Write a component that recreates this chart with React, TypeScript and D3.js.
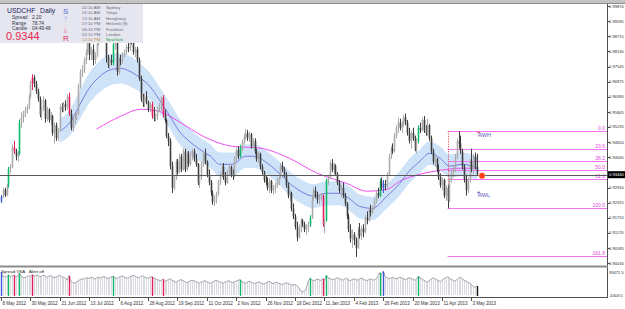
import React from 'react';
import * as d3 from 'd3';

const W = 625;
const H = 309;

const priceTicks = ["0.99870","0.99285","0.98715","0.98130","0.97545","0.96975","0.96390","0.95805","0.95235","0.94650","0.94065","0.93480","0.92910","0.92325","0.91755","0.91170","0.90585","0.90016"];
const dateLabels = ["8 May 2012","30 May 2012","21 Jun 2012","13 Jul 2012","6 Aug 2012","28 Aug 2012","19 Sep 2012","11 Oct 2012","2 Nov 2012","26 Nov 2012","18 Dec 2012","11 Jan 2013","4 Feb 2013","26 Feb 2013","20 Mar 2013","11 Apr 2013","3 May 2013"];
const dateBarIdx = [0,16,32,48,64,80,96,112,128,144,160,176,192,208,224,240,256];

// daily bars: open, high, low, close in pips above 0.9000
const ohlc: number[][] = [
[238,262,232,255],[255,290,250,282],[282,290,255,262],[262,305,258,298],[298,370,290,362],[362,380,345,370],[370,455,365,445],[445,470,420,430],[430,440,395,410],[410,430,390,420],
[420,552,415,540],[540,580,520,560],[560,585,540,575],[575,600,560,590],[590,610,575,600],[600,650,590,640],[640,700,632,690],[690,725,665,712],[712,722,675,690],[690,700,650,660],
[660,670,620,630],[630,640,560,570],[570,600,550,590],[590,640,585,625],[625,630,540,555],[555,600,545,590],[590,595,540,550],[550,580,530,565],[565,570,490,500],[500,540,460,530],
[530,540,470,480],[480,520,470,510],[510,610,505,600],[600,615,580,590],[590,620,580,610],[610,625,585,600],[600,650,590,640],[640,655,565,575],[575,590,510,520],[520,560,505,550],
[550,575,535,560],[560,580,550,575],[575,690,570,680],[680,745,670,735],[735,760,715,740],[740,790,730,780],[780,820,765,810],[810,860,800,845],[845,850,780,800],[800,830,780,820],
[820,840,760,780],[780,810,765,800],[800,850,790,840],[840,900,835,890],[890,945,880,925],[925,972,915,960],[960,968,900,910],[910,930,770,790],[790,800,750,760],[760,790,745,780],
[780,800,760,770],[770,850,760,840],[840,885,820,860],[860,870,720,735],[735,790,725,780],[780,800,760,775],[775,810,765,800],[800,820,790,810],[810,840,800,830],[830,850,810,825],
[825,870,815,860],[860,875,840,850],[850,860,800,810],[810,830,790,820],[820,830,770,780],[780,790,700,710],[710,720,620,630],[630,650,600,615],[615,650,600,640],[640,660,610,620],
[620,625,580,590],[590,620,580,610],[610,620,555,565],[565,600,545,555],[555,575,545,565],[565,600,550,590],[590,615,580,605],[605,640,585,635],[635,645,560,570],[570,590,540,550],
[550,555,480,490],[490,500,450,470],[470,480,360,375],[375,390,270,290],[290,340,280,330],[330,400,320,390],[390,400,340,350],[350,420,345,410],[410,420,350,360],[360,440,355,430],
[430,440,350,360],[360,430,355,420],[420,430,370,380],[380,430,375,410],[410,440,395,430],[430,440,390,400],[400,420,370,380],[380,385,300,310],[310,340,290,330],[330,390,320,380],
[380,430,370,420],[420,440,380,390],[390,395,330,340],[340,360,300,310],[310,320,260,270],[270,280,225,235],[235,260,220,250],[250,275,230,265],[265,320,260,310],[310,350,300,340],
[340,380,330,370],[370,385,320,330],[330,350,300,310],[310,360,305,350],[350,380,340,370],[370,375,330,340],[340,360,320,335],[335,410,330,400],[400,445,390,435],[435,450,400,410],
[410,455,405,445],[445,475,430,465],[465,495,455,485],[485,515,475,500],[500,512,470,480],[480,505,465,495],[495,500,440,450],[450,480,440,470],[470,480,420,430],[430,440,390,400],
[400,430,385,420],[420,425,360,370],[370,380,340,350],[350,355,310,320],[320,335,300,310],[310,330,280,290],[290,325,270,315],[315,320,270,280],[280,300,265,290],[290,310,270,300],
[300,330,290,320],[320,340,300,330],[330,385,325,375],[375,390,350,360],[360,370,330,340],[340,350,290,300],[300,310,250,260],[260,280,240,270],[270,275,200,210],[210,230,170,180],
[180,190,130,140],[140,160,85,100],[100,150,95,140],[140,175,120,165],[165,170,140,150],[150,160,120,130],[130,150,110,140],[140,160,120,150],[150,185,140,175],[175,260,170,250],
[250,290,240,280],[280,295,250,260],[260,275,230,245],[245,265,225,255],[255,270,240,260],[260,265,140,150],[150,170,115,165],[165,325,160,318],[318,340,300,330],[330,395,325,385],
[385,400,350,360],[360,385,340,375],[375,380,340,345],[345,350,300,310],[310,320,270,280],[280,300,250,290],[290,310,250,260],[260,270,220,230],[230,235,170,180],[180,190,120,130],
[130,150,80,95],[95,130,60,110],[110,120,70,90],[90,100,25,60],[60,140,55,130],[130,155,95,105],[105,145,90,135],[135,150,100,120],[120,185,115,175],[175,200,150,165],
[165,215,160,205],[205,225,180,195],[195,220,190,215],[215,250,205,240],[240,280,230,270],[270,290,250,260],[260,325,255,315],[315,330,280,290],[290,320,270,305],[305,320,280,300],
[300,350,290,340],[340,420,335,410],[410,450,400,440],[440,460,420,430],[430,500,425,490],[490,530,480,520],[520,560,500,540],[540,555,510,520],[520,545,500,535],[535,570,525,560],
[560,575,530,540],[540,550,490,500],[500,520,460,470],[470,510,440,500],[500,520,470,480],[480,490,430,440],[440,480,420,470],[470,530,460,520],[520,540,500,510],[510,560,505,550],
[550,565,500,510],[510,530,490,500],[500,555,490,530],[530,535,470,480],[480,490,420,430],[430,440,380,390],[390,420,370,400],[400,405,350,360],[360,380,320,330],[330,345,290,300],
[300,330,280,320],[320,325,250,260],[260,300,240,290],[290,300,211,240],[240,330,235,320],[320,360,310,350],[350,375,330,360],[360,420,350,410],[410,480,400,470],[470,507,440,460],
[460,490,420,430],[430,440,360,370],[370,380,310,320],[320,340,260,280],[280,330,270,320],[320,400,310,390],[390,440,350,360],[360,420,340,410],[410,425,360,370],[370,420,335,344]
];

// volume (thousands)
const volumeK = [
93,74,76,72,82,75,78,80,73,77, 88,76,72,70,74,78,75,82,77,79, 80,74,76,81,78,72,75,79,74,70,
73,77,80,75,71,68,60,78,55,50, 48,52,57,62,66,64,68,70,67,72, 69,65,70,73,68,72,75,71,66,70,
73,76,70,67,72,75,78,73,70,68, 74,77,80,76,72,70,75,79,73,70, 68,72,74,70,66,62,60,58,64,55,
58,62,66,60,56,52,55,60,62,58, 54,50,53,57,60,58,54,50,48,52, 55,58,54,50,47,52,56,60,57,53,
50,48,52,55,58,54,50,53,56,60, 62,55,50,48,52,56,53,49,46,50, 53,50,47,44,48,52,55,50,46,49,
52,48,45,42,46,50,47,44,40,42, 42,38,30,18,12,15,25,50,68,62, 58,60,64,62,58,66,60,80,70,66,
64,62,66,70,67,63,60,65,68,62, 58,62,66,63,60,64,68,65,61,58, 62,66,63,60,64,75,90,85,96,75,
70,66,68,72,69,65,68,72,70,66, 62,66,70,68,64,60,63,76,70,66, 60,56,52,58,64,70,66,62,58,54,
60,66,70,74,68,64,60,56,62,68, 72,66,60,56,52,48,42,35,30,36
];

const signalIdx = [0,4,7,10,17,37,61,82,88,130,168,175,177,206,208,227,259];
const signalKind = ["blue","green","red","green","red","red","green","red","red","green","green","red","green","green","blue","green","black"];

// centered TMA with band
const tmaIdx = [32,38,43,48,54,59,65,70,76,81,86,92,97,103,108,114,119,126,133,138,145,152,157,163,170,177,184,190,195,202,210,217,222,228,233,239,244,251,259];
const tmaMid = [0.9507,0.9545,0.9610,0.9672,0.9718,0.9741,0.9748,0.9737,0.9710,0.9679,0.9629,0.9564,0.9507,0.9465,0.9438,0.9411,0.9380,0.9380,0.9411,0.9411,0.9384,0.9342,0.9307,0.9277,0.9258,0.9269,0.9269,0.9246,0.9219,0.9211,0.9258,0.9307,0.9353,0.9392,0.9422,0.9403,0.9373,0.9380,0.9365];
const tmaHalf = [0.0045,0.0050,0.0055,0.0058,0.0060,0.0060,0.0058,0.0058,0.0055,0.0052,0.0050,0.0050,0.0050,0.0048,0.0046,0.0045,0.0045,0.0045,0.0045,0.0045,0.0045,0.0045,0.0046,0.0046,0.0046,0.0046,0.0046,0.0046,0.0046,0.0045,0.0046,0.0047,0.0047,0.0046,0.0045,0.0045,0.0045,0.0045,0.0045];

// slow moving average
const maIdx = [52,65,76,86,99,108,126,141,157,172,181,188,199,210,217,228,239,250,259];
const maVal = [0.9515,0.9564,0.9591,0.9583,0.9534,0.9495,0.9449,0.9442,0.9403,0.9346,0.9323,0.9307,0.9277,0.9284,0.9315,0.9342,0.9357,0.9365,0.9365];

const fibLevels = [0, 23.6, 38.2, 50, 61.8, 100, 161.8];
const fibLabels = ["0.0","23.6","38.2","50.0","61.8","100.0","161.8"];
const fibHigh = 0.9507;
const fibLow = 0.92115;
const fibStartIdx = 243;
const currentPrice = 0.9344;

const sessionTimes = ["02:10 AM","01:10 AM","12:10 AM","07:10 PM","06:10 PM","05:10 PM","12:10 PM"];
const sessionCities = ["Sydney","Tokyo","Hongkong","Helsinki (9)","Frankfurt","London","NewYork"];

const FONT = "'Liberation Sans', Arial, sans-serif";
const colorOf: Record<string, string> = { blue: "#3a5ae0", green: "#12b86a", red: "#e2205c", black: "#101010" };

export default function App() {
  const plotRight = 607;
  const x = d3.scaleLinear().domain([0, 259]).range([1, 477]);
  const y = d3.scaleLinear().domain([0.90016, 0.99870]).range([263, 6]);
  const vy = d3.scaleLinear().domain([-4403.5, 93471.5]).range([296, 272]);
  const p = (v: number) => 0.9 + v / 10000;

  const sig = new Map<number, string>();
  signalIdx.forEach((i, k) => sig.set(i, signalKind[k]));

  const bandArea = d3.area<number>()
    .x((_, k) => x(tmaIdx[k]))
    .y0((_, k) => y(tmaMid[k] - tmaHalf[k]))
    .y1((_, k) => y(tmaMid[k] + tmaHalf[k]))
    .curve(d3.curveMonotoneX);
  const tmaLine = d3.line<number>()
    .x((_, k) => x(tmaIdx[k]))
    .y((v) => y(v))
    .curve(d3.curveMonotoneX);
  const maLine = d3.line<number>()
    .x((_, k) => x(maIdx[k]))
    .y((v) => y(v))
    .curve(d3.curveMonotoneX);
  const volLine = d3.line<number>()
    .x((_, k) => x(k))
    .y((v) => vy(v * 1000));

  const fibX0 = x(fibStartIdx);
  const fibY = (lvl: number) => y(fibHigh - (fibHigh - fibLow) * lvl / 100);
  const curY = y(currentPrice);
  const axisFont = 4.1;
  const axisX = plotRight + 2;

  return (
    <svg width={W} height={H} style={{ position: 'absolute', left: 0, top: 0, background: '#fff' }}
      xmlns="http://www.w3.org/2000/svg" fontFamily={FONT}>
      <rect x={0} y={0} width={W} height={H} fill="#ffffff" />
      {/* top frame */}
      <rect x={0} y={0} width={W} height={3} fill="#c4c4c4" />
      <line x1={0} x2={W} y1={3.5} y2={3.5} stroke="#8a8a8a" />

      {/* TMA band */}
      <path d={bandArea(tmaMid) || ''} fill="#cfe3f8" />
      <path d={maLine(maVal) || ''} fill="none" stroke="#f04cf0" strokeWidth={1} />
      <path d={tmaLine(tmaMid) || ''} fill="none" stroke="#7a7ae0" strokeWidth={1} />

      {/* fibonacci */}
      {fibLevels.map((lvl, k) => (
        <g key={'f' + k}>
          <line x1={fibX0} x2={plotRight} y1={Math.round(fibY(lvl)) + 0.5} y2={Math.round(fibY(lvl)) + 0.5} stroke="#f274f2" strokeWidth={1} />
          <text x={plotRight - 2} y={Math.round(fibY(lvl)) - 1} fontSize={5} fill="#e048e0" textAnchor="end">{fibLabels[k]}</text>
        </g>
      ))}
      <line x1={Math.round(fibX0) + 0.5} x2={Math.round(fibX0) + 0.5} y1={fibY(0)} y2={fibY(100)} stroke="#d83a3a" strokeDasharray="1,1.5" />

      {/* candles */}
      {ohlc.map((b, i) => {
        const [o, h, l, c] = b;
        const xi = Math.round(x(i)) + 0.5;
        const kind = sig.get(i);
        const bull = c >= o;
        let col = bull ? '#ababab' : '#3e3e3e';
        if (kind && kind !== 'black') col = colorOf[kind];
        const yt = y(p(Math.max(o, c)));
        const yb = y(p(Math.min(o, c)));
        return (
          <g key={'c' + i}>
            <line x1={xi} x2={xi} y1={y(p(h))} y2={y(p(l))} stroke={col} strokeWidth={1} />
            <rect x={xi - 0.8} y={yt} width={1.6} height={Math.max(0.8, yb - yt)} fill={col} />
          </g>
        );
      })}

      {/* current price line */}
      <line x1={0} x2={plotRight} y1={Math.round(curY) + 1.5} y2={Math.round(curY) + 1.5} stroke="#5a5a5a" strokeWidth={1} />
      <circle cx={x(259) + 5} cy={curY + 2} r={3} fill="#ff3c14" stroke="#ff9a80" strokeWidth={0.6} />

      {/* RWH / RWL */}
      <line x1={x(259)} x2={x(259) + 3} y1={fibY(0) + 1} y2={fibY(0) + 1} stroke="#e04060" />
      <text x={x(259) + 1} y={fibY(0) + 6} fontSize={5.5} fill="#5a5ab8">RWH</text>
      <line x1={x(259)} x2={x(259) + 3} y1={fibY(100) - 16} y2={fibY(100) - 16} stroke="#6060c0" />
      <text x={x(259) + 1} y={fibY(100) - 11} fontSize={5.5} fill="#5a5ab8">RWL</text>

      {/* price axis */}
      <line x1={plotRight + 0.5} x2={plotRight + 0.5} y1={4} y2={297} stroke="#505050" />
      {priceTicks.filter((t) => Math.abs(y(+t) - curY) > 5).map((t, k) => {
        const yy = y(+t);
        return (
          <g key={'p' + k}>
            <line x1={plotRight} x2={plotRight + 3} y1={Math.round(yy) + 0.5} y2={Math.round(yy) + 0.5} stroke="#505050" />
            <text x={axisX} y={yy + 1.5} fontSize={axisFont} fill="#303030">{t}</text>
          </g>
        );
      })}
      <rect x={plotRight + 1} y={curY - 2.5} width={W - plotRight - 1} height={7} fill="#000" />
      <text x={axisX} y={curY + 2.5} fontSize={axisFont} fill="#fff">0.93440</text>

      {/* separator */}
      <rect x={0} y={265.5} width={plotRight + 1} height={2} fill="#8c8c8c" />

      {/* volume panel */}
      {volumeK.map((v, i) => {
        const xi = Math.round(x(i)) + 0.5;
        return <line key={'v' + i} x1={xi} x2={xi} y1={vy(v * 1000)} y2={vy(0)} stroke="#d8d8de" strokeWidth={1} />;
      })}
      <path d={volLine(volumeK) || ''} fill="none" stroke="#a4a4ae" strokeWidth={1} />
      {signalIdx.map((i, k) => {
        const xi = Math.round(x(i)) + 0.5;
        return <line key={'s' + k} x1={xi} x2={xi} y1={vy(volumeK[i] * 1000)} y2={vy(-4403.5)} stroke={colorOf[signalKind[k]]} strokeWidth={1.4} />;
      })}
      <text x={1} y={273} fontSize={4.4} fill="#202020">Spread VSA</text>
      <text x={29} y={273} fontSize={4.4} fill="#202020">Alert off</text>
      <text x={axisX} y={274} fontSize={axisFont} fill="#303030">93471.5</text>
      <text x={axisX} y={297} fontSize={axisFont} fill="#303030">-4403.5</text>
      <line x1={0} x2={plotRight + 1} y1={297.5} y2={297.5} stroke="#505050" />

      {/* date axis */}
      {dateLabels.map((d, k) => {
        const xi = Math.round(x(dateBarIdx[k])) + 0.5;
        return (
          <g key={'d' + k}>
            <line x1={xi} x2={xi} y1={298} y2={301} stroke="#505050" />
            <text x={xi + 1} y={305} fontSize={4.5} fill="#303030">{d}</text>
          </g>
        );
      })}

      {/* info panel */}
      <rect x={0} y={4} width={143} height={39} fill="#e6e6f0" />
      <text x={7} y={13} fontSize={6.8} fill="#23235a">USDCHF</text>
      <text x={40} y={13} fontSize={6.8} fill="#23235a">Daily</text>
      <text x={12} y={19} fontSize={4.8} fill="#303040">Spread</text>
      <text x={32} y={19} fontSize={4.8} fill="#303040">2.20</text>
      <text x={12} y={24.5} fontSize={4.8} fill="#303040">Range</text>
      <text x={32} y={24.5} fontSize={4.8} fill="#303040">78.74</text>
      <text x={12} y={30} fontSize={4.8} fill="#303040">Candle</text>
      <text x={32} y={30} fontSize={4.8} fill="#303040">04:49:48</text>
      <text x={6} y={40} fontSize={11} fill="#e8284e">0.9344</text>
      <text x={63} y={14} fontSize={8} fill="#4a64d0">S</text>
      <text x={64.5} y={18.5} fontSize={4} fill="#8aa0e8">D</text>
      <text x={65} y={23} fontSize={4} fill="#c0b0e0">l</text>
      <text x={64.5} y={28} fontSize={4} fill="#e0b0c8">l</text>
      <text x={64} y={33} fontSize={5} fill="#e890b0">E</text>
      <text x={63} y={41} fontSize={8} fill="#e02a5a">R</text>
      {sessionTimes.map((t, k) => (
        <g key={'t' + k}>
          <text x={82} y={9 + k * 5.4} fontSize={4.3} fill={k === 6 ? '#c08a40' : '#6a6a7a'}>{t}</text>
          <text x={106} y={9 + k * 5.4} fontSize={4.3} fill={k === 6 ? '#22a030' : '#6a6a7a'}>{sessionCities[k]}</text>
        </g>
      ))}
    </svg>
  );
}
